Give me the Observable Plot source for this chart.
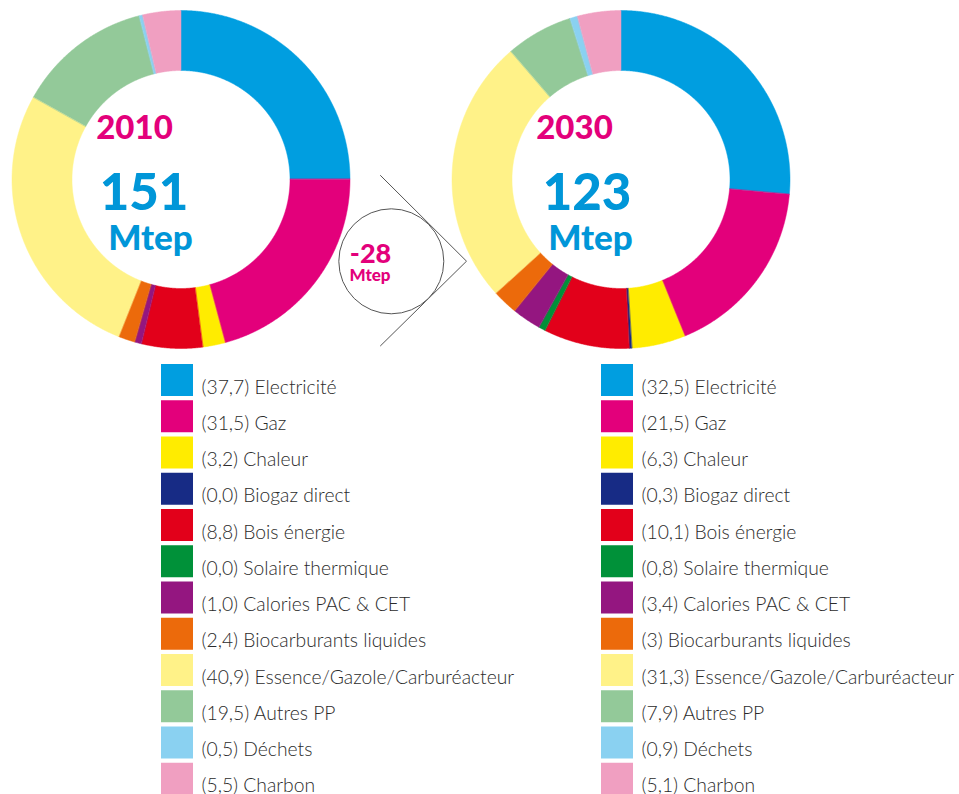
<!DOCTYPE html>
<html><head><meta charset="utf-8">
<script src="https://cdn.jsdelivr.net/npm/d3@7"></script>
<script src="https://cdn.jsdelivr.net/npm/@observablehq/plot@0.6"></script>
<style>body{margin:0;background:#fff;overflow:hidden}</style>
</head><body><div id="chart"></div>
<script>
// ---- data ----
const categories = ["Electricité","Gaz","Chaleur","Biogaz direct","Bois énergie","Solaire thermique","Calories PAC & CET","Biocarburants liquides","Essence/Gazole/Carburéacteur","Autres PP","Déchets","Charbon"];
const colors = ["#009ee0","#e3007b","#ffec00","#172b85","#e2001a","#009139","#941680","#ec6a0b","#fff288","#93c999","#8ad1f1","#f09fc1"];
const values2010 = [37.7,31.5,3.2,0,8.8,0,1.0,2.4,40.9,19.5,0.5,5.5];
const values2030 = [32.5,21.5,6.3,0.3,10.1,0.8,3.4,3,31.3,7.9,0.9,5.1];
const valueLabels2010 = ["37,7","31,5","3,2","0,0","8,8","0,0","1,0","2,4","40,9","19,5","0,5","5,5"];
const valueLabels2030 = ["32,5","21,5","6,3","0,3","10,1","0,8","3,4","3","31,3","7,9","0,9","5,1"];
const years = ["2010","2030"];
const totals = ["151","123"];
const differenceLabel = "-28";
const unit = "Mtep";

// ---- layout ----
const W = 959, H = 794;
const R0 = 109, R1 = 169;
const layout = [
  {cx: 180.5, cy: 179, values: values2010, labels: valueLabels2010, lx: 161, tx: 201, yearX: 134, totX: 143.5, unitX: 150},
  {cx: 620.5, cy: 179, values: values2030, labels: valueLabels2030, lx: 601, tx: 641, yearX: 574, totX: 586.5, unitX: 590}
];
const legendTop = 364, legendStep = 36.25, sw = 32;
const fontFamily = "Lato, 'Open Sans', sans-serif";

// donut slices
const slicePts = [];
layout.forEach((L, k) => {
  const arcs = d3.pie().sort(null).value(d => d)(L.values);
  arcs.forEach((a, i) => {
    if (L.values[i] <= 0) return;
    const n = Math.max(2, Math.ceil((a.endAngle - a.startAngle) / 0.005));
    const id = k + "-" + i;
    for (let j = 0; j <= n; j++) {
      const t = a.startAngle + (a.endAngle - a.startAngle) * j / n;
      slicePts.push({id, cat: categories[i], x: L.cx + R1 * Math.sin(t), y: L.cy - R1 * Math.cos(t)});
    }
    for (let j = n; j >= 0; j--) {
      const t = a.startAngle + (a.endAngle - a.startAngle) * j / n;
      slicePts.push({id, cat: categories[i], x: L.cx + R0 * Math.sin(t), y: L.cy - R0 * Math.cos(t)});
    }
  });
});

// legend rows
const legendRows = [];
layout.forEach(L => {
  categories.forEach((c, i) => {
    const top = legendTop + i * legendStep;
    legendRows.push({cat: c, x1: L.lx, x2: L.lx + sw, y1: top, y2: top + sw,
      tx: L.tx, ty: top + 29, label: `(${L.labels[i]}) ${c}`});
  });
});

const centerText = layout.map((L, k) => ({year: years[k], total: totals[k], unit, yx: L.yearX, tx: L.totX, ux: L.unitX}));

const circle = [{x: 390.8, y: 260.8}];
const chevron = [{x: 380, y: 175}, {x: 466, y: 260.7}, {x: 380, y: 345.3}];
const diffText = [{x: 370, y: 262.5, t: differenceLabel, s: 27}, {x: 369.5, y: 280, t: unit, s: 17}];

const chart = Plot.plot({
  width: W, height: H, margin: 0,
  x: {domain: [0, W], range: [0, W], axis: null},
  y: {domain: [0, H], range: [0, H], axis: null},
  color: {domain: categories, range: colors},
  style: {background: "#fff"},
  marks: [
    Plot.line(slicePts, {x: "x", y: "y", z: "id", fill: "cat", stroke: "cat", strokeWidth: 0.5, curve: "linear-closed"}),
    Plot.line(chevron, {x: "x", y: "y", stroke: "#555", strokeWidth: 1}),
    Plot.dot(circle, {x: "x", y: "y", r: 52.5, stroke: "#555", strokeWidth: 1, fill: "#fff"}),
    Plot.text(diffText, {x: "x", y: "y", text: "t", fontSize: "s", fill: "#e3007b", fontWeight: 900, fontFamily, textAnchor: "middle", lineAnchor: "bottom"}),
    Plot.text(centerText, {x: "yx", y: 138, text: "year", fontSize: 33, fill: "#e3007b", fontWeight: 900, fontFamily, textAnchor: "middle", lineAnchor: "bottom"}),
    Plot.text(centerText, {x: "tx", y: 209, text: "total", fontSize: 51, fill: "#0096d8", fontWeight: 900, fontFamily, textAnchor: "middle", lineAnchor: "bottom"}),
    Plot.text(centerText, {x: "ux", y: 249, text: "unit", fontSize: 35, fill: "#0096d8", fontWeight: 900, fontFamily, textAnchor: "middle", lineAnchor: "bottom"}),
    Plot.rect(legendRows, {x1: "x1", x2: "x2", y1: "y1", y2: "y2", fill: "cat"}),
    Plot.text(legendRows, {x: "tx", y: "ty", text: "label", fontSize: 19.3, fill: "#2b2b2b", fontWeight: 300, fontFamily, textAnchor: "start", lineAnchor: "bottom"})
  ]
});
document.getElementById("chart").appendChild(chart);
</script>
</body></html>
